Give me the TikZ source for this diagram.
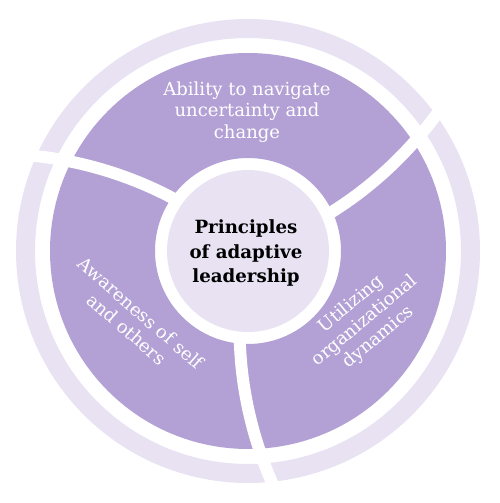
\documentclass[tikz,border=0pt]{standalone}
\usepackage{fontspec}
\setmainfont{DejaVu Serif}
\definecolor{ringlight}{RGB}{232,226,243}
\definecolor{segpurple}{RGB}{179,161,214}
\begin{document}
\begin{tikzpicture}[x=1pt,y=1pt,
  divider/.style={white, line width=12pt},
  seglabel/.style={text=white, align=center, inner sep=0pt, font=\fontsize{18}{21.5}\selectfont},
  corelabel/.style={text=black, align=center, inner sep=0pt, font=\bfseries\fontsize{18.2}{24.5}\selectfont}]
\useasboundingbox (0,0) rectangle (500,503);
\coordinate (c) at (248,252);
% outer light ring
\fill[ringlight, even odd rule] (c) circle (232) (c) circle (213);
% purple ring
\fill[segpurple, even odd rule] (c) circle (198) (c) circle (93);
% inner circle
\fill[ringlight] (c) circle (81);
% dividers
\foreach \a in {25,145,265}{
  \draw[divider] plot[domain=85:245, samples=40, variable=\r, smooth]
    ({248+\r*cos(\a+0.078*(\r-93))}, {252+\r*sin(\a+0.078*(\r-93))});
}
\node[corelabel] (core) at (246,250) {Principles\\of adaptive\\leadership};
\node[seglabel] (top) at (247,391) {Ability to navigate\\uncertainty and\\change};
\node[seglabel, rotate=-41] (left) at (134,182) {Awareness of self\\and others};
\node[seglabel, rotate=40] (right) at (365,182) {Utilizing\\organizational\\dynamics};
\end{tikzpicture}
\end{document}
